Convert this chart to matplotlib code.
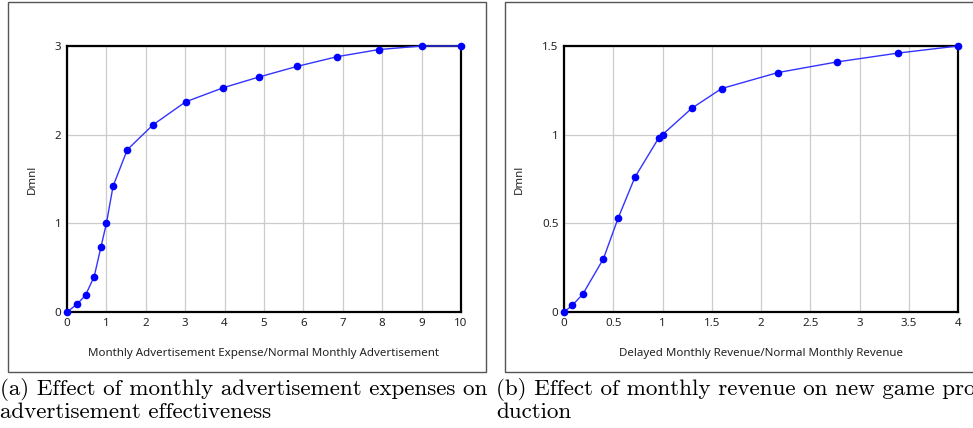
import matplotlib.pyplot as plt
from matplotlib.patches import Rectangle

# (a) advertisement effectiveness lookup
adv_x = [0, 0.26, 0.47, 0.69, 0.86, 1.0, 1.17, 1.53, 2.18, 3.01, 3.97, 4.87, 5.84, 6.86, 7.92, 9.0, 10.0]
adv_y = [0, 0.09, 0.19, 0.40, 0.73, 1.0, 1.42, 1.83, 2.11, 2.37, 2.53, 2.65, 2.77, 2.88, 2.96, 3.0, 3.0]

# (b) new game production lookup
rev_x = [0, 0.085, 0.19, 0.40, 0.55, 0.72, 0.96, 1.0, 1.30, 1.60, 2.17, 2.77, 3.39, 4.0]
rev_y = [0, 0.038, 0.10, 0.30, 0.53, 0.76, 0.98, 1.0, 1.15, 1.26, 1.35, 1.41, 1.46, 1.5]

adv_xticks = list(range(0, 11))
adv_yticks = [0, 1, 2, 3]
rev_xticks = [0, 0.5, 1, 1.5, 2, 2.5, 3, 3.5, 4]
rev_yticks = [0, 0.5, 1, 1.5]
rev_xlabels = ["0", "0.5", "1", "1.5", "2", "2.5", "3", "3.5", "4"]
rev_ylabels = ["0", "0.5", "1", "1.5"]

cap_a = "(a) Effect of monthly advertisement expenses on\nadvertisement effectiveness"
cap_b = "(b) Effect of monthly revenue on new game pro-\nduction"

W, H = 973, 428
fig = plt.figure(figsize=(W / 100, H / 100), dpi=100)

tick_font = "Noto Sans"
fs = 8.3


def frame(x0, y0, x1, y1):
    fig.patches.append(Rectangle((x0 / W, 1 - y1 / H), (x1 - x0) / W, (y1 - y0) / H,
                                 transform=fig.transFigure, fill=False,
                                 edgecolor="#555555", linewidth=1.0))


def panel(left, xs, ys, xticks, yticks, xlabels, ylabels, xlabel, xmax, ymax):
    ax = fig.add_axes([left / W, 1 - 312 / H, 394 / W, 266 / H])
    ax.plot(xs, ys, color="#3333ff", linewidth=1.0, marker="o", markersize=4.5,
            markerfacecolor="#0000ff", markeredgecolor="#0000ff", clip_on=False, zorder=3)
    ax.set_xlim(0, xmax)
    ax.set_ylim(0, ymax)
    ax.set_xticks(xticks)
    ax.set_yticks(yticks)
    ax.set_xticklabels(xlabels, fontfamily=tick_font, fontsize=fs, color="#222222")
    ax.set_yticklabels(ylabels, fontfamily=tick_font, fontsize=fs, color="#222222")
    ax.tick_params(length=0, pad=4)
    ax.grid(True, color="#cccccc", linewidth=0.9)
    ax.set_axisbelow(True)
    for s in ax.spines.values():
        s.set_linewidth(1.6)
        s.set_color("black")
    ax.set_xlabel(xlabel, fontfamily=tick_font, fontsize=fs, labelpad=14, color="#222222")
    ax.set_ylabel("Dmnl", fontfamily=tick_font, fontsize=fs, labelpad=12, color="#222222")
    return ax


frame(8, 2, 486, 372)
frame(505, 2, 980, 372)

panel(67, adv_x, adv_y, adv_xticks, adv_yticks, [str(t) for t in adv_xticks],
      [str(t) for t in adv_yticks],
      "Monthly Advertisement Expense/Normal Monthly Advertisement", 10, 3)
panel(564, rev_x, rev_y, rev_xticks, rev_yticks, rev_xlabels, rev_ylabels,
      "Delayed Monthly Revenue/Normal Monthly Revenue", 4, 1.5)

fig.text(0 / W, 1 - 378 / H, cap_a, fontfamily="cmr10", fontsize=16.6,
         va="top", ha="left", linespacing=1.12)
fig.text(496 / W, 1 - 378 / H, cap_b, fontfamily="cmr10", fontsize=16.6,
         va="top", ha="left", linespacing=1.12)

fig.savefig("out.png", dpi=100)
